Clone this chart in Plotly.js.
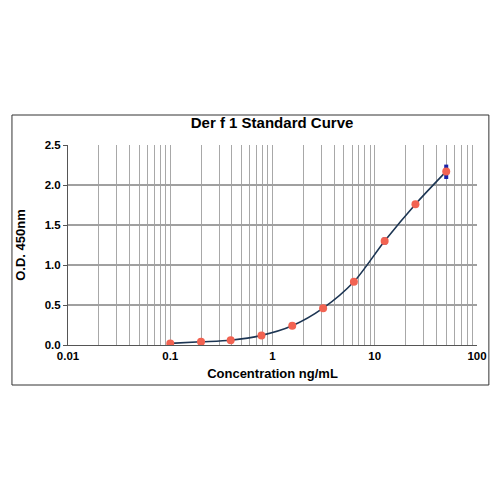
<!DOCTYPE html>
<html>
<head>
<meta charset="utf-8">
<script src="https://cdn.plot.ly/plotly-3.0.1.min.js"></script>
<style>
  html, body { margin: 0; padding: 0; background: #fff; }
  #chart { width: 501px; height: 501px; }
</style>
</head>
<body>
<div id="chart"></div>
<script>
// Standard points (ng/mL) and mean O.D.
const conc = [0.1, 0.2, 0.39, 0.78, 1.56, 3.125, 6.25, 12.5, 25, 50];
const odMean = [0.02, 0.04, 0.06, 0.12, 0.24, 0.46, 0.79, 1.30, 1.76, 2.17];

// Replicate wells (blue), mostly hidden under the means
const repConc = [0.1, 0.1, 0.2, 0.2, 0.39, 0.39, 0.78, 0.78, 1.56, 1.56, 3.125, 3.125, 6.25, 6.25, 12.5, 12.5, 25, 25, 50, 50];
const repOd = [0.02, 0.02, 0.04, 0.04, 0.06, 0.06, 0.12, 0.12, 0.24, 0.24, 0.46, 0.46, 0.79, 0.79, 1.28, 1.32, 1.75, 1.77, 2.23, 2.10];

const decades = [0.01, 0.1, 1, 10, 100];
const decadeLabels = ['0.01', '0.1', '1', '10', '100'];

// grid lines at every 1..9 step of each decade, labels only on the decades
const xGrid = [];
const xGridText = [];
decades.forEach((d, i) => {
    const top = i === decades.length - 1 ? 1 : 9;
    for (let k = 1; k <= top; k++) {
        xGrid.push(+(d * k).toPrecision(3));
        xGridText.push(k === 1 ? decadeLabels[i] : '');
    }
});

const FONT = { family: 'Liberation Sans, Arial, sans-serif', color: '#000', weight: 'bold' };
const GRID = '#a8a8a8';

const data = [
    {
        type: 'scatter', mode: 'lines', x: conc, y: odMean,
        line: { color: '#1c3553', width: 1.6, shape: 'spline', smoothing: 0.8 },
        hoverinfo: 'skip',
    },
    {
        type: 'scatter', mode: 'markers', x: repConc, y: repOd,
        marker: { color: '#1a22a8', size: 4, symbol: 'square' },
    },
    {
        type: 'scatter', mode: 'markers', x: conc, y: odMean,
        marker: { color: '#f26352', size: 8 },
    },
];

const layout = {
    width: 501, height: 501,
    margin: { l: 68, r: 24, t: 145, b: 156 },
    showlegend: false,
    paper_bgcolor: '#fff', plot_bgcolor: '#fff',
    font: FONT,
    title: {
        text: 'Der f 1 Standard Curve',
        font: { ...FONT, size: 15 },
        x: 0.543, xanchor: 'center', y: 0.754, yanchor: 'middle',
    },
    xaxis: {
        type: 'log', range: [-2, 2],
        tickmode: 'array', tickvals: xGrid, ticktext: xGridText,
        showgrid: true, gridcolor: GRID, gridwidth: 1,
        showline: true, linecolor: '#555', linewidth: 1,
        ticks: '',
        zeroline: false,
        tickfont: { ...FONT, size: 11.5 },
        title: { text: 'Concentration ng/mL', font: { ...FONT, size: 13 }, standoff: 8 },
    },
    yaxis: {
        range: [0, 2.5], dtick: 0.5, tick0: 0, tickformat: '.1f',
        showgrid: true, gridcolor: '#a0a0a0', gridwidth: 1.2,
        showline: true, linecolor: '#555', linewidth: 1,
        ticks: 'outside', ticklen: 4, tickcolor: '#555',
        zeroline: false,
        tickfont: { ...FONT, size: 11.5 },
        title: { text: 'O.D. 450nm', font: { ...FONT, size: 13 }, standoff: 16 },
    },
    shapes: [{
        type: 'rect', xref: 'paper', yref: 'paper',
        x0: -0.137, x1: 1.029, y0: -0.2, y1: 1.15,
        line: { color: '#333', width: 1 },
    }],
};

Plotly.newPlot('chart', data, layout, { displayModeBar: false, staticPlot: true });
</script>
</body>
</html>
